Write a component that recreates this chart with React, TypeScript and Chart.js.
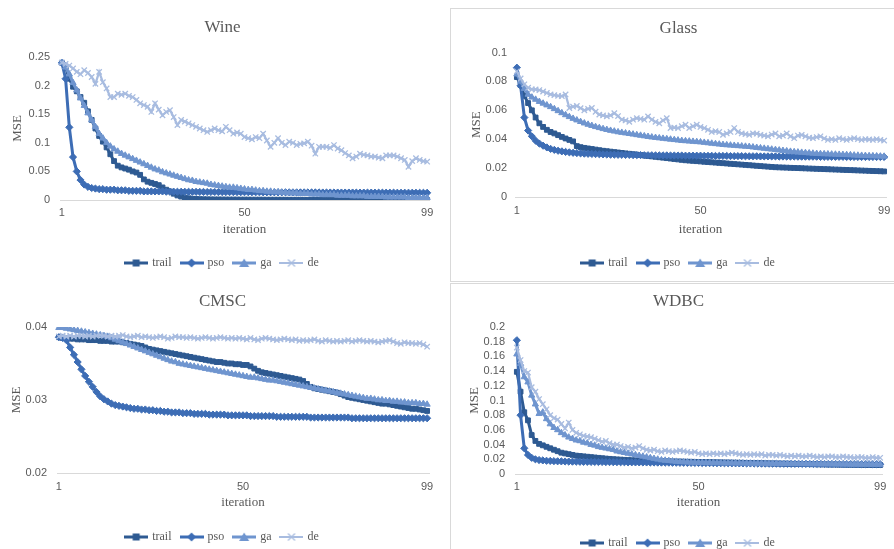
import React, { useEffect, useRef } from 'react';
import { Chart, registerables } from 'chart.js';
Chart.register(...registerables);

// ---------- categories & ticks ----------
const iterations: string[] = Array.from({ length: 99 }, (_, i) => String(i + 1));
const xTickLabels = ['1', '50', '99'];
const seriesNames = ['trail', 'pso', 'ga', 'de'];
const seriesColors = ['#2E5A92', '#3D6DB5', '#6F95CF', '#A8BCE0'];
const seriesMarkers = ['rect', 'rectRot', 'triangle', 'crossRot'];

const wineYTicks = [0, 0.05, 0.1, 0.15, 0.2, 0.25];
const glassYTicks = [0, 0.02, 0.04, 0.06, 0.08, 0.1];
const cmscYTicks = [0.02, 0.03, 0.04];
const wdbcYTicks = [0, 0.02, 0.04, 0.06, 0.08, 0.1, 0.12, 0.14, 0.16, 0.18, 0.2];

// ---------- Wine ----------
const wineTrail = [
  0.240, 0.232, 0.212, 0.198, 0.190, 0.180, 0.170, 0.155, 0.140, 0.125,
  0.112, 0.102, 0.092, 0.080, 0.068, 0.060, 0.057, 0.055, 0.053, 0.050,
  0.048, 0.044, 0.036, 0.032, 0.030, 0.028, 0.026, 0.022, 0.018, 0.015,
  0.011, 0.008, 0.006, 0.004, 0.003, 0.0022, 0.0018, 0.0015, 0.0013, 0.0012,
  0.0011, 0.0010, 0.0010, 0.0009, 0.0009, 0.0008, 0.0008, 0.0008, 0.0007, 0.0007,
  0.0007, 0.0006, 0.0006, 0.0006, 0.0006, 0.0005, 0.0005, 0.0005, 0.0005, 0.0005,
  0.0004, 0.0004, 0.0004, 0.0004, 0.0004, 0.0004, 0.0003, 0.0003, 0.0003, 0.0003,
  0.0003, 0.0003, 0.0003, 0.0003, 0.0002, 0.0002, 0.0002, 0.0002, 0.0002, 0.0002,
  0.0002, 0.0002, 0.0002, 0.0002, 0.0001, 0.0001, 0.0001, 0.0001, 0.0001, 0.0001,
  0.0001, 0.0001, 0.0001, 0.0001, 0.0001, 0.0001, 0.0001, 0.0001, 0.0001,
];
const winePso = [
  0.240, 0.212, 0.127, 0.075, 0.050, 0.035, 0.027, 0.023, 0.021, 0.020,
  0.019, 0.019, 0.018, 0.018, 0.018, 0.017, 0.017, 0.017, 0.016, 0.016,
  0.016, 0.016, 0.015, 0.015, 0.015, 0.015, 0.015, 0.015, 0.0145, 0.0145,
  0.0145, 0.0144, 0.0144, 0.0143, 0.0143, 0.0142, 0.0142, 0.0141, 0.0141, 0.0140,
  0.0140, 0.0140, 0.0139, 0.0139, 0.0139, 0.0138, 0.0138, 0.0138, 0.0137, 0.0137,
  0.0137, 0.0136, 0.0136, 0.0136, 0.0135, 0.0135, 0.0135, 0.0135, 0.0134, 0.0134,
  0.0134, 0.0134, 0.0133, 0.0133, 0.0133, 0.0133, 0.0132, 0.0132, 0.0132, 0.0132,
  0.0131, 0.0131, 0.0131, 0.0131, 0.0130, 0.0130, 0.0130, 0.0130, 0.0130, 0.0129,
  0.0129, 0.0129, 0.0129, 0.0129, 0.0128, 0.0128, 0.0128, 0.0128, 0.0128, 0.0128,
  0.0127, 0.0127, 0.0127, 0.0127, 0.0127, 0.0127, 0.0126, 0.0126, 0.0126,
];
const wineGa = [
  0.240, 0.232, 0.220, 0.205, 0.192, 0.178, 0.165, 0.152, 0.140, 0.128,
  0.116, 0.108, 0.100, 0.094, 0.089, 0.085, 0.081, 0.078, 0.075, 0.072,
  0.069, 0.066, 0.063, 0.060, 0.057, 0.054, 0.052, 0.049, 0.047, 0.045,
  0.043, 0.041, 0.039, 0.037, 0.035, 0.034, 0.032, 0.031, 0.030, 0.029,
  0.027, 0.026, 0.025, 0.024, 0.023, 0.022, 0.022, 0.021, 0.020, 0.019,
  0.018, 0.018, 0.017, 0.016, 0.016, 0.015, 0.015, 0.014, 0.014, 0.013,
  0.013, 0.012, 0.012, 0.012, 0.011, 0.011, 0.011, 0.010, 0.010, 0.010,
  0.009, 0.009, 0.009, 0.009, 0.008, 0.008, 0.008, 0.008, 0.007, 0.007,
  0.007, 0.007, 0.006, 0.006, 0.006, 0.006, 0.006, 0.005, 0.005, 0.005,
  0.005, 0.005, 0.005, 0.004, 0.004, 0.004, 0.004, 0.004, 0.004,
];
const wineDe = [
  0.240, 0.238, 0.235, 0.230, 0.224, 0.220, 0.227, 0.222, 0.215, 0.203,
  0.224, 0.206, 0.195, 0.180, 0.180, 0.186, 0.184, 0.186, 0.182, 0.180,
  0.175, 0.169, 0.166, 0.163, 0.154, 0.169, 0.158, 0.148, 0.154, 0.157,
  0.145, 0.131, 0.140, 0.137, 0.134, 0.131, 0.128, 0.125, 0.122, 0.119,
  0.122, 0.125, 0.122, 0.120, 0.128, 0.122, 0.116, 0.118, 0.116, 0.110,
  0.108, 0.106, 0.110, 0.108, 0.116, 0.104, 0.093, 0.100, 0.108, 0.100,
  0.096, 0.102, 0.100, 0.096, 0.098, 0.099, 0.102, 0.095, 0.081, 0.093,
  0.093, 0.093, 0.091, 0.096, 0.090, 0.087, 0.082, 0.078, 0.073, 0.076,
  0.081, 0.079, 0.078, 0.076, 0.076, 0.074, 0.073, 0.078, 0.078, 0.078,
  0.076, 0.073, 0.070, 0.058, 0.068, 0.073, 0.070, 0.068, 0.067,
];

// ---------- Glass ----------
const glassTrail = [
  0.0830, 0.0775, 0.0700, 0.0650, 0.0600, 0.0550, 0.0510, 0.0485, 0.0465, 0.0450,
  0.0440, 0.0428, 0.0416, 0.0405, 0.0395, 0.0385, 0.0352, 0.0345, 0.0340, 0.0336,
  0.0332, 0.0328, 0.0324, 0.0320, 0.0317, 0.0314, 0.0311, 0.0308, 0.0305, 0.0302,
  0.0299, 0.0296, 0.0293, 0.0290, 0.0287, 0.0284, 0.0281, 0.0278, 0.0275, 0.0272,
  0.0269, 0.0266, 0.0263, 0.0260, 0.0257, 0.0254, 0.0252, 0.0250, 0.0248, 0.0246,
  0.0244, 0.0242, 0.0240, 0.0238, 0.0236, 0.0234, 0.0232, 0.0230, 0.0228, 0.0226,
  0.0224, 0.0222, 0.0220, 0.0218, 0.0216, 0.0214, 0.0212, 0.0210, 0.0208, 0.0206,
  0.0205, 0.0204, 0.0203, 0.0202, 0.0201, 0.0200, 0.0199, 0.0198, 0.0197, 0.0196,
  0.0195, 0.0194, 0.0193, 0.0192, 0.0191, 0.0190, 0.0189, 0.0188, 0.0187, 0.0186,
  0.0185, 0.0184, 0.0183, 0.0182, 0.0181, 0.0180, 0.0179, 0.0178, 0.0177,
];
const glassPso = [
  0.0895, 0.0770, 0.0550, 0.0460, 0.0420, 0.0390, 0.0370, 0.0355, 0.0343, 0.0333,
  0.0326, 0.0320, 0.0316, 0.0312, 0.0309, 0.0306, 0.0304, 0.0302, 0.0300, 0.0299,
  0.0298, 0.0297, 0.0296, 0.0295, 0.0294, 0.0293, 0.0293, 0.0292, 0.0292, 0.0291,
  0.0291, 0.0290, 0.0290, 0.0290, 0.0289, 0.0289, 0.0289, 0.0288, 0.0288, 0.0288,
  0.0288, 0.0287, 0.0287, 0.0287, 0.0287, 0.0286, 0.0286, 0.0286, 0.0286, 0.0286,
  0.0285, 0.0285, 0.0285, 0.0284, 0.0284, 0.0284, 0.0284, 0.0283, 0.0283, 0.0283,
  0.0283, 0.0282, 0.0282, 0.0282, 0.0282, 0.0281, 0.0281, 0.0281, 0.0281, 0.0281,
  0.0280, 0.0280, 0.0280, 0.0280, 0.0280, 0.0279, 0.0279, 0.0279, 0.0279, 0.0279,
  0.0279, 0.0278, 0.0278, 0.0278, 0.0278, 0.0278, 0.0278, 0.0278, 0.0277, 0.0277,
  0.0277, 0.0277, 0.0277, 0.0277, 0.0277, 0.0277, 0.0277, 0.0277, 0.0277,
];
const glassGa = [
  0.0850, 0.0800, 0.0750, 0.0710, 0.0690, 0.0675, 0.0660, 0.0648, 0.0636, 0.0624,
  0.0610, 0.0596, 0.0582, 0.0568, 0.0555, 0.0543, 0.0532, 0.0521, 0.0511, 0.0502,
  0.0494, 0.0486, 0.0479, 0.0472, 0.0466, 0.0460, 0.0455, 0.0450, 0.0446, 0.0442,
  0.0438, 0.0434, 0.0430, 0.0426, 0.0422, 0.0418, 0.0414, 0.0411, 0.0408, 0.0405,
  0.0402, 0.0399, 0.0396, 0.0393, 0.0390, 0.0388, 0.0386, 0.0384, 0.0382, 0.0380,
  0.0377, 0.0374, 0.0371, 0.0368, 0.0365, 0.0362, 0.0360, 0.0358, 0.0356, 0.0354,
  0.0352, 0.0350, 0.0348, 0.0345, 0.0342, 0.0339, 0.0336, 0.0333, 0.0330, 0.0327,
  0.0324, 0.0321, 0.0318, 0.0315, 0.0312, 0.0310, 0.0308, 0.0306, 0.0304, 0.0302,
  0.0300, 0.0299, 0.0298, 0.0297, 0.0296, 0.0295, 0.0294, 0.0293, 0.0292, 0.0291,
  0.0289, 0.0288, 0.0287, 0.0286, 0.0285, 0.0284, 0.0283, 0.0282, 0.0281,
];
const glassDe = [
  0.0870, 0.0820, 0.0780, 0.0756, 0.0745, 0.0744, 0.0740, 0.0730, 0.0720, 0.0710,
  0.0705, 0.0700, 0.0698, 0.0710, 0.0616, 0.0625, 0.0630, 0.0615, 0.0600, 0.0610,
  0.0616, 0.0590, 0.0570, 0.0565, 0.0558, 0.0565, 0.0580, 0.0560, 0.0535, 0.0530,
  0.0520, 0.0535, 0.0546, 0.0540, 0.0535, 0.0558, 0.0535, 0.0520, 0.0510, 0.0530,
  0.0546, 0.0477, 0.0480, 0.0477, 0.0490, 0.0500, 0.0477, 0.0490, 0.0500, 0.0485,
  0.0477, 0.0465, 0.0450, 0.0455, 0.0450, 0.0430, 0.0440, 0.0450, 0.0477, 0.0450,
  0.0440, 0.0435, 0.0430, 0.0440, 0.0438, 0.0430, 0.0425, 0.0420, 0.0432, 0.0440,
  0.0420, 0.0425, 0.0440, 0.0420, 0.0407, 0.0425, 0.0430, 0.0420, 0.0410, 0.0407,
  0.0415, 0.0420, 0.0405, 0.0395, 0.0400, 0.0395, 0.0407, 0.0400, 0.0395, 0.0402,
  0.0407, 0.0400, 0.0395, 0.0400, 0.0398, 0.0395, 0.0400, 0.0395, 0.0390,
];

// ---------- CMSC ----------
const cmscTrail = [
  0.0386, 0.0385, 0.0385, 0.0384, 0.0384, 0.0383, 0.0383, 0.0383, 0.0382, 0.0382,
  0.0382, 0.0381, 0.0381, 0.0381, 0.0380, 0.0380, 0.0380, 0.0379, 0.0378, 0.0377,
  0.0376, 0.0375, 0.0374, 0.0372, 0.0370, 0.0369, 0.0368, 0.0367, 0.0366, 0.0365,
  0.0364, 0.0363, 0.0362, 0.0361, 0.0360, 0.0359, 0.0358, 0.0357, 0.0356, 0.0355,
  0.0354, 0.0353, 0.0352, 0.0352, 0.0351, 0.0350, 0.0350, 0.0349, 0.0349, 0.0348,
  0.0348, 0.0346, 0.0343, 0.0340, 0.0338, 0.0337, 0.0336, 0.0335, 0.0334, 0.0333,
  0.0332, 0.0331, 0.0330, 0.0329, 0.0328, 0.0326, 0.0322, 0.0318, 0.0316, 0.0315,
  0.0314, 0.0313, 0.0312, 0.0311, 0.0310, 0.0308, 0.0306, 0.0304, 0.0303, 0.0302,
  0.0301, 0.0300, 0.0299, 0.0298, 0.0297, 0.0296, 0.0295, 0.0295, 0.0294, 0.0293,
  0.0292, 0.0291, 0.0290, 0.0289, 0.0288, 0.0288, 0.0287, 0.0286, 0.0285,
];
const cmscPso = [
  0.0386, 0.0385, 0.0382, 0.0372, 0.0362, 0.0352, 0.0342, 0.0333, 0.0325, 0.0318,
  0.0311, 0.0305, 0.0301, 0.0298, 0.0295, 0.0293, 0.0292, 0.0291, 0.0290, 0.0289,
  0.0288, 0.0288, 0.0287, 0.0287, 0.0286, 0.0286, 0.0285, 0.0285, 0.0284, 0.0284,
  0.0283, 0.0283, 0.0283, 0.0282, 0.0282, 0.0282, 0.0281, 0.0281, 0.0281, 0.0281,
  0.0280, 0.0280, 0.0280, 0.0280, 0.0280, 0.0279, 0.0279, 0.0279, 0.0279, 0.0279,
  0.0279, 0.0278, 0.0278, 0.0278, 0.0278, 0.0278, 0.0278, 0.0278, 0.0277, 0.0277,
  0.0277, 0.0277, 0.0277, 0.0277, 0.0277, 0.0277, 0.0277, 0.0276, 0.0276, 0.0276,
  0.0276, 0.0276, 0.0276, 0.0276, 0.0276, 0.0276, 0.0276, 0.0276, 0.0275, 0.0275,
  0.0275, 0.0275, 0.0275, 0.0275, 0.0275, 0.0275, 0.0275, 0.0275, 0.0275, 0.0275,
  0.0275, 0.0275, 0.0275, 0.0275, 0.0275, 0.0275, 0.0275, 0.0275, 0.0275,
];
const cmscGa = [
  0.0399, 0.0399, 0.0398, 0.0397, 0.0396, 0.0395, 0.0394, 0.0393, 0.0392, 0.0391,
  0.0390, 0.0389, 0.0388, 0.0387, 0.0385, 0.0383, 0.0381, 0.0379, 0.0377, 0.0375,
  0.0373, 0.0371, 0.0369, 0.0367, 0.0365, 0.0363, 0.0361, 0.0359, 0.0357, 0.0355,
  0.0353, 0.0352, 0.0350, 0.0349, 0.0348, 0.0347, 0.0346, 0.0345, 0.0344, 0.0343,
  0.0342, 0.0341, 0.0340, 0.0339, 0.0338, 0.0337, 0.0336, 0.0335, 0.0334, 0.0333,
  0.0332, 0.0331, 0.0331, 0.0330, 0.0329, 0.0328, 0.0327, 0.0327, 0.0326, 0.0325,
  0.0324, 0.0323, 0.0322, 0.0321, 0.0320, 0.0319, 0.0318, 0.0317, 0.0316, 0.0315,
  0.0314, 0.0313, 0.0312, 0.0311, 0.0310, 0.0309, 0.0308, 0.0307, 0.0306, 0.0305,
  0.0304, 0.0303, 0.0302, 0.0302, 0.0301, 0.0300, 0.0300, 0.0299, 0.0299, 0.0298,
  0.0298, 0.0297, 0.0297, 0.0296, 0.0296, 0.0296, 0.0295, 0.0295, 0.0294,
];
const cmscDe = [
  0.0387, 0.0388, 0.0387, 0.0388, 0.0387, 0.0388, 0.0388, 0.0387, 0.0388, 0.0387,
  0.0388, 0.0389, 0.0388, 0.0387, 0.0388, 0.0387, 0.0388, 0.0389, 0.0387, 0.0386,
  0.0387, 0.0388, 0.0386, 0.0387, 0.0386, 0.0385, 0.0386, 0.0387, 0.0386, 0.0384,
  0.0385, 0.0387, 0.0386, 0.0386, 0.0385, 0.0386, 0.0385, 0.0384, 0.0385, 0.0386,
  0.0385, 0.0384, 0.0385, 0.0386, 0.0385, 0.0384, 0.0385, 0.0384, 0.0385, 0.0384,
  0.0383, 0.0385, 0.0383, 0.0382, 0.0384, 0.0385, 0.0384, 0.0383, 0.0382, 0.0383,
  0.0384, 0.0383, 0.0382, 0.0383, 0.0381, 0.0382, 0.0381, 0.0382, 0.0383, 0.0381,
  0.0380, 0.0382, 0.0381, 0.0380, 0.0381, 0.0380, 0.0381, 0.0382, 0.0380, 0.0381,
  0.0382, 0.0381, 0.0380, 0.0381, 0.0380, 0.0379, 0.0380, 0.0381, 0.0382, 0.0380,
  0.0378, 0.0377, 0.0379, 0.0378, 0.0378, 0.0377, 0.0378, 0.0376, 0.0373,
];

// ---------- WDBC ----------
const wdbcTrail = [
  0.139, 0.112, 0.084, 0.073, 0.053, 0.045, 0.041, 0.039, 0.037, 0.035,
  0.033, 0.031, 0.029, 0.028, 0.027, 0.026, 0.025, 0.0245, 0.0240, 0.0235,
  0.0230, 0.0225, 0.0220, 0.0215, 0.0210, 0.0206, 0.0202, 0.0199, 0.0196, 0.0193,
  0.0190, 0.0188, 0.0186, 0.0184, 0.0182, 0.0180, 0.0178, 0.0176, 0.0175, 0.0174,
  0.0173, 0.0172, 0.0171, 0.0170, 0.0169, 0.0168, 0.0167, 0.0166, 0.0165, 0.0164,
  0.0163, 0.0162, 0.0161, 0.0160, 0.0159, 0.0158, 0.0157, 0.0156, 0.0155, 0.0154,
  0.0153, 0.0152, 0.0151, 0.0150, 0.0149, 0.0148, 0.0147, 0.0146, 0.0145, 0.0144,
  0.0143, 0.0142, 0.0141, 0.0140, 0.0139, 0.0138, 0.0137, 0.0136, 0.0135, 0.0134,
  0.0133, 0.0132, 0.0131, 0.0130, 0.0129, 0.0128, 0.0128, 0.0127, 0.0127, 0.0126,
  0.0126, 0.0125, 0.0125, 0.0124, 0.0124, 0.0123, 0.0123, 0.0122, 0.0122,
];
const wdbcPso = [
  0.182, 0.080, 0.035, 0.026, 0.022, 0.020, 0.019, 0.0185, 0.0180, 0.0178,
  0.0175, 0.0173, 0.0172, 0.0170, 0.0169, 0.0168, 0.0167, 0.0166, 0.0165, 0.0165,
  0.0164, 0.0164, 0.0163, 0.0163, 0.0162, 0.0162, 0.0161, 0.0161, 0.0160, 0.0160,
  0.0159, 0.0159, 0.0158, 0.0158, 0.0157, 0.0157, 0.0156, 0.0156, 0.0155, 0.0155,
  0.0154, 0.0154, 0.0153, 0.0153, 0.0152, 0.0152, 0.0151, 0.0151, 0.0150, 0.0150,
  0.0149, 0.0149, 0.0148, 0.0148, 0.0147, 0.0147, 0.0146, 0.0146, 0.0145, 0.0145,
  0.0144, 0.0144, 0.0143, 0.0143, 0.0142, 0.0142, 0.0141, 0.0141, 0.0140, 0.0140,
  0.0140, 0.0139, 0.0139, 0.0139, 0.0138, 0.0138, 0.0138, 0.0137, 0.0137, 0.0137,
  0.0136, 0.0136, 0.0136, 0.0136, 0.0135, 0.0135, 0.0135, 0.0135, 0.0134, 0.0134,
  0.0134, 0.0134, 0.0134, 0.0133, 0.0133, 0.0133, 0.0133, 0.0133, 0.0133,
];
const wdbcGa = [
  0.163, 0.150, 0.132, 0.125, 0.107, 0.095, 0.082, 0.084, 0.075, 0.068,
  0.063, 0.060, 0.056, 0.053, 0.050, 0.048, 0.046, 0.045, 0.043, 0.042,
  0.040, 0.039, 0.037, 0.036, 0.035, 0.034, 0.033, 0.031, 0.030, 0.029,
  0.028, 0.027, 0.026, 0.025, 0.024, 0.023, 0.022, 0.021, 0.020, 0.019,
  0.0185, 0.0180, 0.0175, 0.0170, 0.0166, 0.0163, 0.0160, 0.0158, 0.0156, 0.0155,
  0.0154, 0.0153, 0.0152, 0.0151, 0.0150, 0.0149, 0.0148, 0.0148, 0.0147, 0.0147,
  0.0146, 0.0146, 0.0145, 0.0145, 0.0144, 0.0144, 0.0143, 0.0143, 0.0142, 0.0142,
  0.0141, 0.0141, 0.0140, 0.0140, 0.0139, 0.0139, 0.0138, 0.0138, 0.0137, 0.0137,
  0.0136, 0.0136, 0.0135, 0.0135, 0.0134, 0.0134, 0.0133, 0.0133, 0.0132, 0.0132,
  0.0131, 0.0131, 0.0131, 0.0130, 0.0130, 0.0130, 0.0130, 0.0129, 0.0129,
];
const wdbcDe = [
  0.172, 0.155, 0.140, 0.138, 0.118, 0.112, 0.102, 0.095, 0.088, 0.080,
  0.076, 0.074, 0.068, 0.062, 0.070, 0.060, 0.056, 0.054, 0.052, 0.051,
  0.050, 0.048, 0.046, 0.044, 0.045, 0.042, 0.040, 0.040, 0.038, 0.036,
  0.037, 0.035, 0.036, 0.038, 0.035, 0.033, 0.032, 0.033, 0.031, 0.030,
  0.032, 0.031, 0.030, 0.031, 0.032, 0.031, 0.030, 0.029, 0.030, 0.028,
  0.027, 0.028, 0.027, 0.028, 0.027, 0.028, 0.027, 0.028, 0.029, 0.028,
  0.027, 0.026, 0.027, 0.026, 0.027, 0.026, 0.027, 0.025, 0.026, 0.026,
  0.025, 0.026, 0.025, 0.024, 0.025, 0.024, 0.025, 0.024, 0.024, 0.025,
  0.024, 0.023, 0.024, 0.023, 0.024, 0.024, 0.023, 0.023, 0.024, 0.023,
  0.023, 0.022, 0.023, 0.023, 0.022, 0.022, 0.023, 0.022, 0.022,
];

// ---------- layout of the four panels ----------
type Panel = {
  title: string;
  series: number[][];
  yTicks: number[];
  canvas: { x: number; y: number; w: number; h: number };
  box?: { x: number; y: number; w: number; h: number };
  titleTop: number; titleBottom: number;
  yAxisW: number; yTitleTop: number; yTickPad: number;
  rightW: number;
  xAxisH: number; xTickPad: number; xTitleBottom: number;
  padB: number;
};

const panels: Panel[] = [
  {
    title: 'Wine', series: [wineTrail, winePso, wineGa, wineDe], yTicks: wineYTicks,
    canvas: { x: 0, y: 0, w: 445, h: 280 },
    titleTop: 17.8, titleBottom: 18.8, yAxisW: 60, yTitleTop: 10.2, yTickPad: 10,
    rightW: 16, xAxisH: 47, xTickPad: 6, xTitleBottom: 9.2, padB: 1,
  },
  {
    title: 'Glass', series: [glassTrail, glassPso, glassGa, glassDe], yTicks: glassYTicks,
    canvas: { x: 451, y: 9, w: 455, h: 272 }, box: { x: 450, y: 8, w: 470, h: 274 },
    titleTop: 9.8, titleBottom: 13.3, yAxisW: 64, yTitleTop: 18.2, yTickPad: 8,
    rightW: 20, xAxisH: 50, xTickPad: 7, xTitleBottom: 9.2, padB: 2,
  },
  {
    title: 'CMSC', series: [cmscTrail, cmscPso, cmscGa, cmscDe], yTicks: cmscYTicks,
    canvas: { x: 0, y: 280, w: 445, h: 275 },
    titleTop: 11.8, titleBottom: 14.8, yAxisW: 57, yTitleTop: 9.2, yTickPad: 10,
    rightW: 16, xAxisH: 48, xTickPad: 7, xTitleBottom: 10.2, padB: 2,
  },
  {
    title: 'WDBC', series: [wdbcTrail, wdbcPso, wdbcGa, wdbcDe], yTicks: wdbcYTicks,
    canvas: { x: 451, y: 284, w: 455, h: 280 }, box: { x: 450, y: 283, w: 470, h: 300 },
    titleTop: 7.8, titleBottom: 14.8, yAxisW: 64, yTitleTop: 16.2, yTickPad: 10,
    rightW: 24, xAxisH: 53, xTickPad: 6, xTitleBottom: 16.2, padB: 5,
  },
];

const TEXT = '#595959';
const SERIF = "'Liberation Serif', 'Times New Roman', serif";
const SANS = "'Liberation Sans', Arial, sans-serif";

function legendImage(color: string, marker: string): HTMLCanvasElement {
  const c = document.createElement('canvas');
  c.width = 24; c.height = 10;
  const g = c.getContext('2d')!;
  g.strokeStyle = color; g.fillStyle = color;
  g.lineWidth = marker === 'crossRot' ? 2 : 3;
  g.beginPath(); g.moveTo(0, 5); g.lineTo(24, 5); g.stroke();
  g.beginPath();
  if (marker === 'rect') {
    g.fillRect(8.5, 1.5, 7, 7);
  } else if (marker === 'rectRot') {
    g.moveTo(12, 0.5); g.lineTo(16.5, 5); g.lineTo(12, 9.5); g.lineTo(7.5, 5); g.closePath(); g.fill();
  } else if (marker === 'triangle') {
    g.moveTo(12, 0.5); g.lineTo(17, 9); g.lineTo(7, 9); g.closePath(); g.fill();
  } else {
    g.lineWidth = 1.3;
    g.moveTo(8.5, 1.5); g.lineTo(15.5, 8.5); g.moveTo(15.5, 1.5); g.lineTo(8.5, 8.5); g.stroke();
  }
  return c;
}

function ChartPanel({ p }: { p: Panel }) {
  const ref = useRef<HTMLCanvasElement>(null);
  useEffect(() => {
    if (!ref.current) return;
    const imgs = seriesColors.map((c, i) => legendImage(c, seriesMarkers[i]));
    const chart = new Chart(ref.current, {
      type: 'line',
      data: {
        labels: iterations,
        datasets: seriesNames.map((name, k) => ({
          label: name,
          data: p.series[k],
          borderColor: seriesColors[k],
          backgroundColor: seriesColors[k],
          borderWidth: k === 3 ? 2.25 : 3,
          pointStyle: seriesMarkers[k] as any,
          pointRadius: k === 3 ? 3.8 : k === 0 ? 3.4 : 3.6,
          pointBackgroundColor: seriesColors[k],
          pointBorderColor: seriesColors[k],
          pointBorderWidth: k === 3 ? 1.3 : 1,
          tension: 0,
          order: 3 - k,
        })),
      },
      options: {
        animation: false,
        responsive: false,
        devicePixelRatio: 1,
        events: [],
        layout: { padding: { left: 0, right: 0, top: 0, bottom: p.padB } },
        plugins: {
          tooltip: { enabled: false },
          title: {
            display: true, text: p.title, color: TEXT,
            font: { family: SERIF, size: 17, weight: 'normal' },
            padding: { top: p.titleTop, bottom: p.titleBottom },
          },
          legend: {
            position: 'bottom',
            labels: {
              usePointStyle: true, pointStyleWidth: 20, padding: 10, color: TEXT,
              font: { family: SERIF, size: 12 },
              generateLabels: (ch: any) => ch.data.datasets.map((ds: any, i: number) => ({
                text: ds.label, fillStyle: seriesColors[i], strokeStyle: seriesColors[i],
                lineWidth: 0, hidden: false, datasetIndex: i, pointStyle: imgs[i], fontColor: TEXT,
              })),
            },
          },
        },
        scales: {
          x: {
            type: 'category', offset: true,
            grid: { display: false, drawTicks: false },
            border: { display: true, color: '#d9d9d9', width: 1 },
            ticks: {
              autoSkip: false, maxRotation: 0, minRotation: 0, padding: p.xTickPad, color: TEXT,
              font: { family: SANS, size: 11 },
              callback: (_v: any, i: number) => (xTickLabels.includes(iterations[i]) ? iterations[i] : ''),
            },
            title: {
              display: true, text: 'iteration', color: TEXT,
              font: { family: SERIF, size: 13 },
              padding: { top: 0, bottom: p.xTitleBottom },
            },
            afterFit: (s: any) => { s.height = p.xAxisH; },
          },
          y: {
            type: 'linear', position: 'left',
            min: p.yTicks[0], max: p.yTicks[p.yTicks.length - 1],
            afterBuildTicks: (s: any) => { s.ticks = p.yTicks.map((v) => ({ value: v })); },
            grid: { display: false, drawTicks: false },
            border: { display: false },
            ticks: {
              autoSkip: false,
              padding: p.yTickPad, color: TEXT, font: { family: SANS, size: 11 },
              callback: (v: any) => String(v),
            },
            title: {
              display: true, text: 'MSE', color: TEXT,
              font: { family: SERIF, size: 13 },
              padding: { top: p.yTitleTop, bottom: 0 },
            },
            afterFit: (s: any) => { s.width = p.yAxisW; },
          },
          yRight: {
            type: 'linear', position: 'right', display: true,
            grid: { display: false, drawTicks: false },
            border: { display: false },
            ticks: { display: false },
            afterFit: (s: any) => { s.width = p.rightW; },
          },
        },
      } as any,
    });
    return () => chart.destroy();
  }, [p]);

  return (
    <canvas
      ref={ref}
      width={p.canvas.w}
      height={p.canvas.h}
      style={{ position: 'absolute', left: p.canvas.x, top: p.canvas.y, width: p.canvas.w, height: p.canvas.h }}
    />
  );
}

export default function App() {
  return (
    <div style={{ position: 'fixed', left: 0, top: 0, width: 894, height: 549, overflow: 'hidden', background: '#ffffff' }}>
      {panels.map((p) =>
        p.box ? (
          <div
            key={p.title + '-box'}
            style={{
              position: 'absolute', left: p.box.x, top: p.box.y, width: p.box.w, height: p.box.h,
              boxSizing: 'border-box', border: '1px solid #d9d9d9',
            }}
          />
        ) : null
      )}
      {panels.map((p) => (
        <ChartPanel key={p.title} p={p} />
      ))}
    </div>
  );
}
